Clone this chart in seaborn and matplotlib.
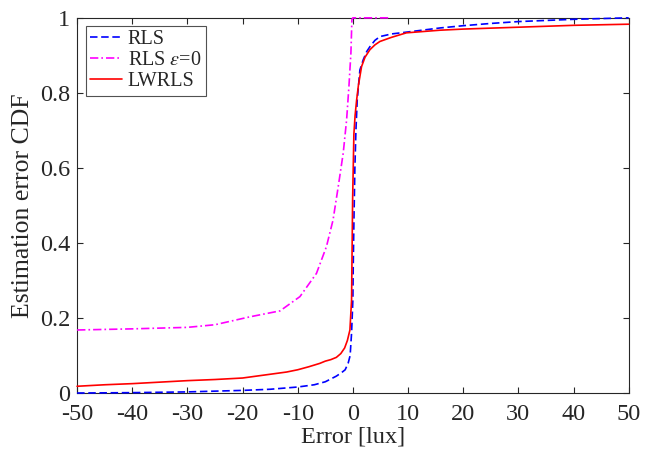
import numpy as np
import pandas as pd
import matplotlib
matplotlib.use("Agg")
import matplotlib.pyplot as plt
from matplotlib import font_manager
import seaborn as sns

# values (error in lux, CDF)
rls_x = [-50, -40, -30, -20, -15, -10, -7, -5, -3, -2, -1.4, -0.85, -0.5, -0.24, 0.0, 0.06,
         0.2, 0.36, 0.55, 0.78, 1.27, 1.87, 2.5, 3.08, 4.0, 4.9, 7, 10.9, 15.8, 20, 25, 30, 35, 40, 45, 50]
rls_y = [0.0, 0.001, 0.003, 0.007, 0.01, 0.016, 0.022, 0.03, 0.045, 0.055, 0.062, 0.08, 0.1, 0.16, 0.25, 0.337,
         0.47, 0.60, 0.70, 0.78, 0.861, 0.888, 0.91, 0.923, 0.94, 0.95, 0.957, 0.964, 0.973, 0.979, 0.985, 0.99, 0.993, 0.996, 0.998, 1.0]

rls0_x = [-50, -40, -30, -25, -18.7, -13.2, -9.6, -6.6, -4.8, -3.6, -2.66, -1.75, -1.14, -0.72,
          -0.36, -0.18, 0.0, 2, 4, 6.5]
rls0_y = [0.168, 0.171, 0.175, 0.182, 0.203, 0.219, 0.257, 0.319, 0.39, 0.461, 0.55, 0.64, 0.728, 0.817,
          0.906, 0.995, 1.0, 1.0, 1.0, 1.0]

lw_x = [-50, -45, -40, -35, -30, -25, -20, -17, -15, -12, -10, -8, -6, -5, -4, -3, -2.2, -1.5, -1.0, -0.54,
        -0.24, -0.05, 0.18, 0.4, 0.67, 1.0, 1.57, 2.2, 3.08, 4.0, 4.9, 7, 9.7, 15.8, 20, 30, 40, 50]
lw_y = [0.018, 0.022, 0.025, 0.029, 0.033, 0.036, 0.04, 0.046, 0.05, 0.056, 0.062, 0.07, 0.079, 0.085, 0.089, 0.095, 0.105, 0.12, 0.14, 0.168,
        0.248, 0.515, 0.69, 0.74, 0.78, 0.82, 0.87, 0.895, 0.915, 0.928, 0.937, 0.948, 0.96, 0.967, 0.97, 0.975, 0.98, 0.983]

labels = ["RLS", "RLS $\\epsilon$=0", "LWRLS"]
df = pd.concat([
    pd.DataFrame({"x": rls_x, "y": rls_y, "method": labels[0]}),
    pd.DataFrame({"x": rls0_x, "y": rls0_y, "method": labels[1]}),
    pd.DataFrame({"x": lw_x, "y": lw_y, "method": labels[2]}),
])

sns.set_style("ticks")
names = {f.name for f in font_manager.fontManager.ttflist}
serif = next((n for n in ["Liberation Serif", "Times New Roman", "STIXGeneral"] if n in names), "DejaVu Serif")
plt.rcParams["font.family"] = [serif, "DejaVu Serif"]
plt.rcParams["mathtext.fontset"] = "stix"
plt.rcParams["axes.unicode_minus"] = False

fig = plt.figure(figsize=(6.59, 4.57), dpi=100)
ax = fig.add_axes([0.117, 0.140, 0.837, 0.821])

palette = {labels[0]: "#0000ff", labels[1]: "#ff00ff", labels[2]: "#ff0000"}
dashes = {labels[0]: (4.5, 2.2), labels[1]: (5, 1.8, 1, 1.8), labels[2]: ""}
sns.lineplot(data=df, x="x", y="y", hue="method", style="method", palette=palette,
             dashes=dashes, sort=False, estimator=None, ax=ax, linewidth=1.2, zorder=3)
for ln in ax.lines:
    ln.set_clip_on(False)

ax.set_xlim(-50, 50)
ax.set_ylim(0, 1)
ax.set_xticks(np.arange(-50, 51, 10))
ax.set_yticks([0, 0.2, 0.4, 0.6, 0.8, 1])
ax.set_yticklabels(["0", "0.2", "0.4", "0.6", "0.8", "1"])
ax.tick_params(direction="in", top=True, right=True, labelsize=17.5, length=4.5,
               color="#262626", pad=5)
ax.tick_params(axis="x", pad=8)
for s in ax.spines.values():
    s.set_color("#262626")
    s.set_linewidth(0.8)
ax.set_xlabel("Error [lux]", fontsize=17.5, labelpad=1)
ax.set_ylabel("Estimation error CDF", fontsize=18.5, labelpad=4)

leg = ax.legend(loc="upper left", fontsize=14.5, frameon=True, fancybox=False,
                edgecolor="#262626", handlelength=1.55, borderpad=0.22, labelspacing=0.1,
                handletextpad=0.3, borderaxespad=0, bbox_to_anchor=(0.016, 0.979))
leg.get_frame().set_linewidth(0.8)

fig.savefig("out.png", dpi=100)
